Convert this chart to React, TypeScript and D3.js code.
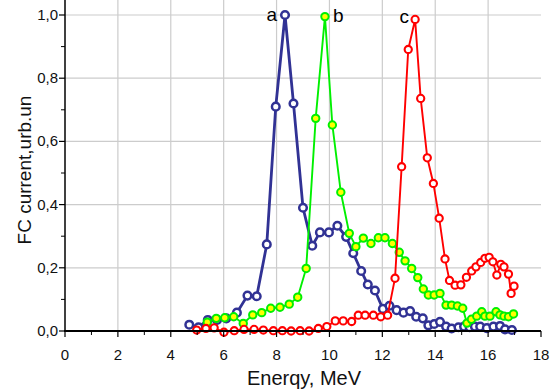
import React from "react";
import * as d3 from "d3";

// energy (MeV) / FC current pairs
const aEnergy = [4.7, 5.05, 5.4, 5.75, 6.1, 6.5, 6.9, 7.25, 7.63, 7.97, 8.32, 8.64, 9.0, 9.35, 9.64, 9.98, 10.3, 10.63, 10.9, 11.2, 11.45, 11.72, 12.02, 12.27, 12.54, 12.8, 13.05, 13.28, 13.53, 13.74, 13.96, 14.18, 14.41, 14.62, 14.88, 15.09, 15.3, 15.5, 15.7, 15.95, 16.2, 16.45, 16.64, 16.9];
const aCurrent = [0.02, 0.012, 0.035, 0.035, 0.04, 0.058, 0.112, 0.11, 0.274, 0.71, 1.0, 0.72, 0.39, 0.27, 0.312, 0.312, 0.333, 0.298, 0.246, 0.19, 0.147, 0.128, 0.07, 0.08, 0.066, 0.058, 0.063, 0.045, 0.04, 0.018, 0.022, 0.029, 0.014, 0.008, 0.012, 0.014, 0.012, 0.014, 0.014, 0.009, 0.014, 0.016, 0.005, 0.003];

const bEnergy = [5.38, 5.72, 6.04, 6.38, 6.74, 7.1, 7.44, 7.78, 8.13, 8.48, 8.8, 9.12, 9.48, 9.83, 10.11, 10.43, 10.75, 11.0, 11.28, 11.57, 11.85, 12.1, 12.38, 12.64, 12.86, 13.11, 13.34, 13.55, 13.74, 13.96, 14.18, 14.41, 14.62, 14.84, 15.04, 15.2, 15.37, 15.57, 15.76, 15.88, 16.07, 16.3, 16.45, 16.6, 16.77, 16.96];
const bCurrent = [0.028, 0.04, 0.042, 0.045, 0.024, 0.051, 0.058, 0.072, 0.075, 0.085, 0.107, 0.198, 0.673, 0.995, 0.652, 0.439, 0.309, 0.267, 0.294, 0.277, 0.295, 0.295, 0.277, 0.249, 0.222, 0.198, 0.169, 0.133, 0.114, 0.114, 0.119, 0.082, 0.082, 0.079, 0.072, 0.025, 0.037, 0.047, 0.061, 0.047, 0.047, 0.061, 0.051, 0.047, 0.045, 0.054];

const cEnergy = [4.98, 5.33, 5.64, 6.01, 6.4, 6.77, 7.15, 7.5, 7.88, 8.22, 8.55, 8.89, 9.23, 9.58, 9.9, 10.22, 10.52, 10.84, 11.09, 11.35, 11.66, 11.94, 12.2, 12.48, 12.73, 12.98, 13.24, 13.45, 13.7, 13.93, 14.15, 14.37, 14.54, 14.75, 14.97, 15.18, 15.38, 15.54, 15.72, 15.88, 16.04, 16.18, 16.33, 16.48, 16.6, 16.77, 16.87, 16.98];
const cCurrent = [0.003, 0.008, 0.01, -0.004, 0.001, 0.005, 0.005, 0.003, 0.001, 0.001, 0.0, 0.001, 0.0, 0.008, 0.014, 0.032, 0.032, 0.03, 0.05, 0.05, 0.05, 0.045, 0.05, 0.167, 0.52, 0.891, 0.986, 0.736, 0.548, 0.467, 0.357, 0.228, 0.16, 0.145, 0.146, 0.17, 0.19, 0.203, 0.217, 0.23, 0.233, 0.219, 0.177, 0.211, 0.203, 0.18, 0.119, 0.142];

const xTicks = [0, 2, 4, 6, 8, 10, 12, 14, 16, 18];
const yTicks = [0, 0.2, 0.4, 0.6, 0.8, 1.0];
const peakLabels = ["a", "b", "c"];

const W = 551;
const H = 391;
const left = 65;
const right = 541;
const bottom = 331;
const top = 0;

const font = "'Liberation Sans', Arial, sans-serif";

const App = () => {
  const x = d3.scaleLinear().domain([0, 18]).range([left, right]);
  const y = d3.scaleLinear().domain([0, 1]).range([bottom, 15]);

  const series = [
    { e: aEnergy, v: aCurrent, line: "#313294", lw: 2.8, fill: "#ffffff", stroke: "#313294", r: 3.8, sw: 2.5 },
    { e: bEnergy, v: bCurrent, line: "#00f000", lw: 1.9, fill: "#ffff00", stroke: "#00f000", r: 3.7, sw: 2 },
    { e: cEnergy, v: cCurrent, line: "#ff0000", lw: 1.9, fill: "#ffffff", stroke: "#ff0000", r: 3.6, sw: 2.1 },
  ];

  const line = d3.line<[number, number]>().x((d) => x(d[0])).y((d) => y(d[1]));

  const minorX = d3.range(1, 18, 2);
  const minorY = d3.range(0.1, 1.05, 0.2);

  // label placement next to each peak
  const labelPos = series.map((s) => {
    const i = d3.maxIndex(s.v);
    return { e: s.e[i], v: s.v[i] };
  });

  return (
    <svg width={W} height={H} style={{ position: "absolute", left: 0, top: 0, background: "#fff" }} fontFamily={font}>
      {/* grid */}
      {xTicks.filter((t) => t > 0 && t < 18).map((t) => (
        <line key={"gx" + t} x1={x(t)} x2={x(t)} y1={top} y2={bottom} stroke="#cccccc" strokeWidth={1.2} />
      ))}
      {yTicks.filter((t) => t > 0).map((t) => (
        <line key={"gy" + t} x1={left} x2={right} y1={y(t)} y2={y(t)} stroke="#cccccc" strokeWidth={1.2} />
      ))}

      {/* curves */}
      {series.map((s, k) => {
        const pts: [number, number][] = s.e.map((e, i) => [e, s.v[i]]);
        return (
          <g key={"s" + k}>
            <path d={line(pts) || ""} fill="none" stroke={s.line} strokeWidth={s.lw} />
            {pts.map((p, i) => (
              <circle key={i} cx={x(p[0])} cy={y(p[1])} r={s.r} fill={s.fill} stroke={s.stroke} strokeWidth={s.sw} />
            ))}
          </g>
        );
      })}

      {/* axes */}
      <line x1={left} x2={left} y1={top} y2={bottom} stroke="#000" strokeWidth={1.5} />
      <line x1={left - 1} x2={right} y1={bottom} y2={bottom} stroke="#000" strokeWidth={2.2} />
      {xTicks.map((t) => (
        <g key={"xt" + t}>
          <line x1={x(t)} x2={x(t)} y1={bottom} y2={bottom + 6} stroke="#000" strokeWidth={1.2} />
          <text x={x(t)} y={360} fontSize={15} textAnchor="middle" fill="#111">{t}</text>
        </g>
      ))}
      {minorX.map((t) => (
        <line key={"mx" + t} x1={x(t)} x2={x(t)} y1={bottom} y2={bottom + 4} stroke="#000" strokeWidth={1} />
      ))}
      {yTicks.map((t) => (
        <g key={"yt" + t}>
          <line x1={left - 6} x2={left} y1={y(t)} y2={y(t)} stroke="#000" strokeWidth={1.2} />
          <text x={58} y={y(t) + 5} fontSize={15} textAnchor="end" fill="#111">{t.toFixed(1).replace(".", ",")}</text>
        </g>
      ))}
      {minorY.map((t) => (
        <line key={"my" + t} x1={left - 4} x2={left} y1={y(t)} y2={y(t)} stroke="#000" strokeWidth={1} />
      ))}

      {/* peak labels */}
      <text x={x(labelPos[0].e) - 8} y={21} fontSize={19} textAnchor="end" fill="#000">{peakLabels[0]}</text>
      <text x={x(labelPos[1].e) + 8} y={22} fontSize={19} textAnchor="start" fill="#000">{peakLabels[1]}</text>
      <text x={x(labelPos[2].e) - 6} y={23} fontSize={19} textAnchor="end" fill="#000">{peakLabels[2]}</text>

      {/* axis titles */}
      <text x={(left + right) / 2 + 1} y={385} fontSize={20} textAnchor="middle" fill="#111">Enerqy, MeV</text>
      <text transform={`translate(31, 170) rotate(-90)`} fontSize={19} textAnchor="middle" fill="#111">FC current,urb.un</text>
    </svg>
  );
};

export default App;
